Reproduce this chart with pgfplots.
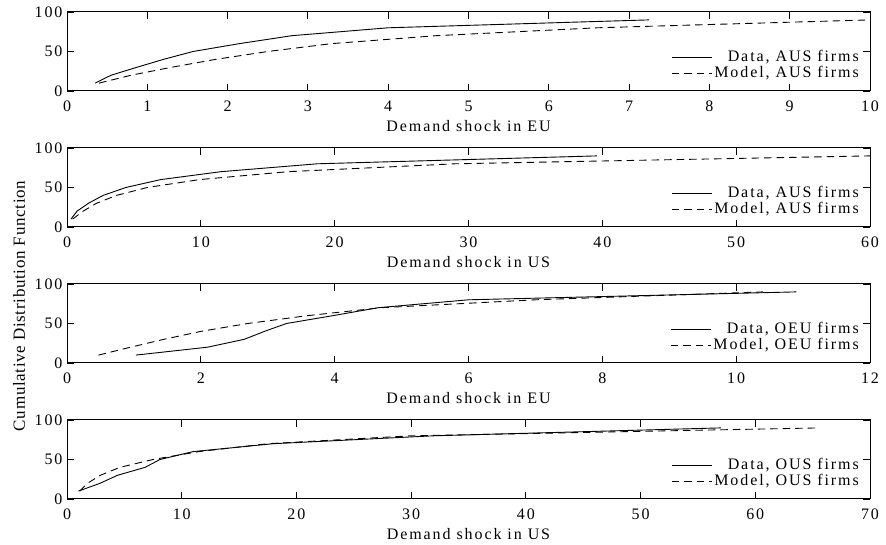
\documentclass[border=0pt]{standalone}
\usepackage{fontspec}
\setmainfont{Liberation Serif}[LetterSpace=12]
\newfontfamily\ylabfont{Liberation Serif}[LetterSpace=4]
\usepackage{pgfplots}
\pgfplotsset{compat=1.18}
\pgfplotsset{
  cdfpanel/.style={
    scale only axis,
    width=803pt, height=79pt,
    anchor=south west,
    ymin=0, ymax=100,
    ytick={0,50,100},
    tick align=inside,
    major tick length=7pt,
    axis line style={line width=1pt},
    every tick/.style={black, line width=0.9pt},
    /pgf/number format/assume math mode=true,
    ticklabel style={font=\fontsize{16pt}{18pt}\selectfont},
    xticklabel style={yshift=-4pt},
    yticklabel style={xshift=1pt},
    label style={font=\fontsize{16pt}{18pt}\selectfont},
    xlabel style={at={(axis description cs:0.5,0)}, anchor=base, yshift=-41pt},
    legend cell align=right,
    legend image code/.code={\draw[##1] (0pt,0pt) -- (40pt,0pt);},
    legend style={draw=none, fill=none, at={(1,0)}, anchor=south east,
      xshift=-10pt, yshift=9pt, inner sep=0pt, row sep=0pt, column sep=1pt,
      font=\fontsize{16pt}{18pt}\selectfont,
      nodes={inner sep=1pt, text height=11pt, text depth=3pt}},
    clip=false,
  },
  datal/.style={black, line width=0.9pt},
  modell/.style={black, line width=0.9pt, dash pattern=on 7.5pt off 5pt},
}
\begin{document}
\fontsize{16pt}{18pt}\selectfont
\begin{tikzpicture}
\useasboundingbox (0,0) rectangle (886pt,545pt);
% Panel 1
\begin{axis}[cdfpanel, at={(67pt,454pt)}, xmin=0, xmax=10, xtick={0,1,...,10},
  xlabel={Demand shock in EU}]
\addplot[datal] coordinates {(0.35,10) (0.55,20) (0.87,30) (1.2,40) (1.57,50) (2.15,60) (2.8,70) (4.0,80) (7.25,90)};
\addlegendentry{Data, AUS firms}
\addplot[modell] coordinates {(0.4,10) (0.8,20) (1.3,30) (1.85,40) (2.5,50) (3.3,60) (4.6,70) (6.6,80) (10,90)};
\addlegendentry{Model, AUS firms}
\end{axis}
% Panel 2
\begin{axis}[cdfpanel, at={(67pt,318pt)}, xmin=0, xmax=60, xtick={0,10,...,60},
  xlabel={Demand shock in US}]
\addplot[datal] coordinates {(0.3,10) (0.75,20) (1.6,30) (2.7,40) (4.4,50) (7.0,60) (11.5,70) (18.7,80) (39.6,90)};
\addlegendentry{Data, AUS firms}
\addplot[modell] coordinates {(0.42,10) (1.2,20) (2.2,30) (3.7,40) (6.0,50) (9.9,60) (16.5,70) (29,80) (60,90)};
\addlegendentry{Model, AUS firms}
\end{axis}
% Panel 3
\begin{axis}[cdfpanel, at={(67pt,182pt)}, xmin=0, xmax=12, xtick={0,2,...,12},
  xlabel={Demand shock in EU}]
\addplot[datal] coordinates {(1.03,10) (2.1,20) (2.65,30) (2.95,40) (3.28,50) (3.98,60) (4.65,70) (6.0,80) (10.9,90)};
\addlegendentry{Data, OEU firms}
\addplot[modell] coordinates {(0.47,10) (0.95,20) (1.45,30) (2.0,40) (2.7,50) (3.6,60) (4.7,70) (7.0,80) (10.4,90)};
\addlegendentry{Model, OEU firms}
\end{axis}
% Panel 4
\begin{axis}[cdfpanel, at={(67pt,46pt)}, xmin=0, xmax=70, xtick={0,10,...,70},
  xlabel={Demand shock in US}]
\addplot[datal] coordinates {(1.0,10) (2.9,20) (4.4,30) (6.8,40) (8.1,50) (11,60) (18,70) (32,80) (57,90)};
\addlegendentry{Data, OUS firms}
\addplot[modell] coordinates {(1.1,10) (1.8,20) (2.9,30) (4.6,40) (7.5,50) (11.5,60) (17.5,70) (30,80) (65.6,90)};
\addlegendentry{Model, OUS firms}
\end{axis}
\node[rotate=90, font=\ylabfont\fontsize{17pt}{20pt}\selectfont] at (19pt,239pt) {Cumulative Distribution Function};
\end{tikzpicture}
\end{document}
